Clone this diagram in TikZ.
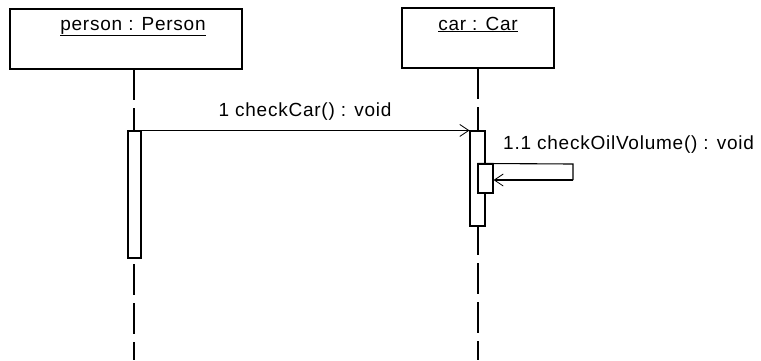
\documentclass[tikz,border=0pt]{standalone}
\usepackage{fontspec}
\setmainfont[LetterSpace=4]{Liberation Sans}
\usetikzlibrary{arrows.meta}
\begin{document}
\begin{tikzpicture}[x=1pt,y=-1pt,
  objbox/.style={draw,line width=1.2pt,fill=white,inner sep=0pt,minimum width=#1,minimum height=60pt},
  actbox/.style={draw,line width=1.1pt,fill=white,inner sep=0pt,minimum width=#1},
  lifeline/.style={line width=1.2pt,dash pattern=on 31pt off 8pt},
  msg/.style={line width=1.1pt,-{Straight Barb[length=9pt,width=12pt,line width=0.8pt]}},
  lbl/.style={font=\fontsize{19}{21}\selectfont,inner sep=0pt,anchor=base}]
\useasboundingbox (0,0) rectangle (761,360);
% object boxes
\node[objbox=232pt] (person) at (126,39) {};
\node[objbox=152pt] (car) at (478,38) {};
\node[lbl] (personlbl) at (133,30) {\underline{person : Person}};
\node[lbl] (carlbl) at (478,30) {\underline{car : Car}};
% lifelines
\coordinate (pend) at (134,360);
\coordinate (cend) at (478,360);
\coordinate (ptop) at (134,69);
\coordinate (ctop) at (478,68);
\draw[lifeline] (ptop) -- (pend);
\draw[lifeline] (ctop) -- (cend);
% activations
\node[actbox=13pt,minimum height=127pt] (pact) at (134.5,194.5) {};
\node[actbox=15pt,minimum height=95pt] (cact) at (477.5,178.5) {};
\node[actbox=15pt,minimum height=29pt] (nact) at (485.5,178.5) {};
% message 1
\draw[msg] (pact.north east) -- (cact.north west);
\node[lbl] (m1) at (305,116) {1 checkCar() : void};
% self message 1.1
\coordinate (sr1) at (573,164);
\coordinate (sr2) at (573,180);
\draw[line width=1.1pt] (nact.north west) -- (sr1) -- (sr2);
\draw[msg] (sr2) -- (nact.east |- sr2);
\node[lbl,anchor=base west] (m2) at (503,149) {1.1 checkOilVolume() : void};
\end{tikzpicture}
\end{document}
